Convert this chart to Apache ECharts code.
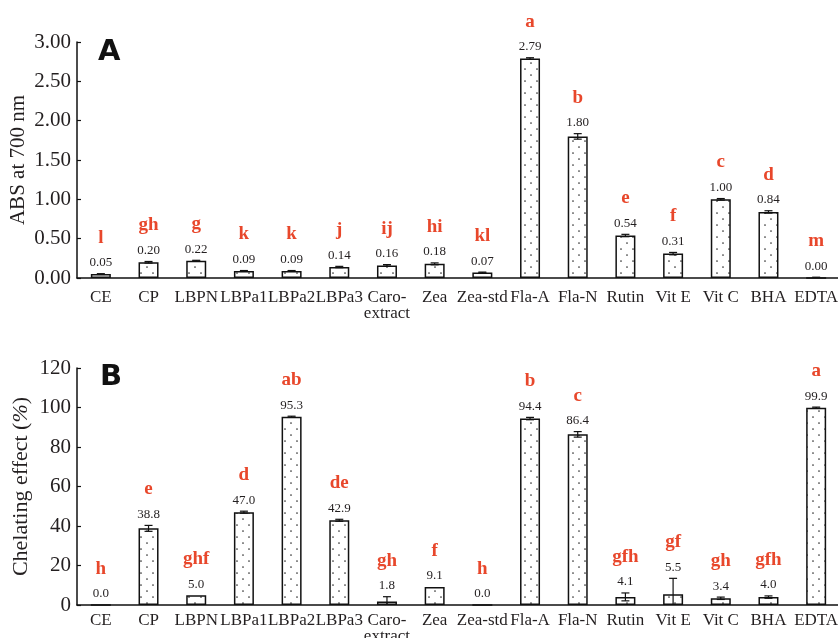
<!DOCTYPE html>
<html>
<head>
<meta charset="utf-8">
<script src="https://cdn.jsdelivr.net/npm/echarts@6/dist/echarts.min.js"></script>
<style>
  html, body { margin: 0; padding: 0; background: #fff; }
  #chart { width: 838px; height: 638px; }
</style>
</head>
<body>
<div id="chart"></div>
<script>
// Samples shown on both panels
const categories = ['CE', 'CP', 'LBPN', 'LBPa1', 'LBPa2', 'LBPa3', 'Caro-\nextract', 'Zea',
  'Zea-std', 'Fla-A', 'Fla-N', 'Rutin', 'Vit E', 'Vit C', 'BHA', 'EDTA'];

// Panel A: reducing power (absorbance at 700 nm)
const absValues  = [0.05, 0.20, 0.22, 0.09, 0.09, 0.14, 0.16, 0.18, 0.07, 2.79, 1.80, 0.54, 0.31, 1.00, 0.84, 0.00];
const absErrors  = [0.005, 0.01, 0.005, 0.005, 0.005, 0.008, 0.01, 0.012, 0.005, 0.01, 0.035, 0.015, 0.015, 0.01, 0.015, 0.01];
const absLetters = ['l', 'gh', 'g', 'k', 'k', 'j', 'ij', 'hi', 'kl', 'a', 'b', 'e', 'f', 'c', 'd', 'm'];
const absTicks   = [0, 0.5, 1, 1.5, 2, 2.5, 3];

// Panel B: ferrous ion chelating effect (%)
const chelValues  = [0.0, 38.8, 5.0, 47.0, 95.3, 42.9, 1.8, 9.1, 0.0, 94.4, 86.4, 4.1, 5.5, 3.4, 4.0, 99.9];
const chelErrors  = [0, 1.5, 0, 0.5, 0.3, 0.5, 2.4, 0, 0, 0.6, 1.4, 2.0, 8.0, 0.6, 0.6, 0.3];
const chelLetters = ['h', 'e', 'ghf', 'd', 'ab', 'de', 'gh', 'f', 'h', 'b', 'c', 'gfh', 'gf', 'gh', 'gfh', 'a'];
const chelTicks   = [0, 20, 40, 60, 80, 100, 120];

const SERIF = 'Liberation Serif';
const INK = '#231f20';
const LETTER_RED = '#e8472b';

// Stippled fill used inside every bar
function stippleTile() {
  const c = document.createElement('canvas');
  c.width = 12; c.height = 12;
  const g = c.getContext('2d');
  g.fillStyle = '#ffffff';
  g.fillRect(0, 0, 12, 12);
  g.fillStyle = '#333333';
  [[3, 3], [9, 9]].forEach(([x, y]) => {
    g.beginPath();
    g.arc(x, y, 0.85, 0, Math.PI * 2);
    g.fill();
  });
  return c;
}
const stipple = { image: stippleTile(), repeat: 'repeat' };

// Error bar plus value and significance-letter labels above each bar
function makeErrorRenderer(values, letters, digits) {
  return function (params, api) {
    const i = api.value(0);
    const v = api.value(1);
    const e = api.value(2);
    const x = api.coord([i, v])[0];
    const yTop = api.coord([i, v + e])[1];
    const children = [];
    const lineStyle = { stroke: '#111', lineWidth: 1.2 };
    if (e > 0) {
      const low = Math.max(0, v - e);
      const yLow = api.coord([i, low])[1];
      children.push({ type: 'line', shape: { x1: x, y1: yLow, x2: x, y2: yTop }, style: lineStyle });
      children.push({ type: 'line', shape: { x1: x - 4, y1: yTop, x2: x + 4, y2: yTop }, style: lineStyle });
      if (v - e > 0) {
        children.push({ type: 'line', shape: { x1: x - 4, y1: yLow, x2: x + 4, y2: yLow }, style: lineStyle });
      }
    }
    children.push({
      type: 'text',
      style: {
        text: values[params.dataIndex].toFixed(digits),
        x: x, y: yTop - 11,
        align: 'center', verticalAlign: 'middle',
        font: '13px "' + SERIF + '"',
        fill: INK
      }
    });
    children.push({
      type: 'text',
      style: {
        text: letters[params.dataIndex],
        x: x, y: yTop - 36,
        align: 'center', verticalAlign: 'middle',
        font: 'bold 19px "' + SERIF + '"',
        fill: LETTER_RED
      }
    });
    return { type: 'group', children: children };
  };
}

function categoryAxis(gridIndex, margin) {
  return {
    type: 'category',
    gridIndex: gridIndex,
    data: categories,
    axisLine: { lineStyle: { color: '#111', width: 1.5 } },
    axisTick: { inside: true, length: 4, lineStyle: { color: '#111', width: 1.2 } },
    axisLabel: {
      interval: 0, margin: margin, hideOverlap: false,
      fontFamily: SERIF, fontSize: 17, color: INK, lineHeight: 16
    }
  };
}

function valueAxis(gridIndex, ticks, digits, name, nameGap, nameSize) {
  return {
    type: 'value',
    gridIndex: gridIndex,
    min: ticks[0],
    max: ticks[ticks.length - 1],
    interval: ticks[1] - ticks[0],
    splitLine: { show: false },
    axisLine: { show: true, lineStyle: { color: '#111', width: 1.5 } },
    axisTick: { show: true, inside: true, length: 4, lineStyle: { color: '#111', width: 1.2 } },
    axisLabel: {
      margin: 6, fontFamily: SERIF, fontSize: 21, color: INK,
      formatter: v => v.toFixed(digits)
    },
    name: name,
    nameLocation: 'middle',
    nameRotate: 90,
    nameGap: nameGap,
    nameMoveOverlap: false,
    nameTextStyle: {
      fontFamily: SERIF, fontSize: nameSize, color: INK,
      rich: { it: { fontFamily: SERIF, fontSize: nameSize, fontStyle: 'italic', color: INK } }
    }
  };
}

const chart = echarts.init(document.getElementById('chart'), null, { renderer: 'canvas' });

const panelTitle = { fontFamily: 'DejaVu Sans', fontWeight: 'bold', fontSize: 29, color: '#111' };

chart.setOption({
  animation: false,
  backgroundColor: '#ffffff',
  title: [
    { text: 'A', left: 98, top: 38, padding: 0, textStyle: panelTitle },
    { text: 'B', left: 100, top: 363, padding: 0, textStyle: panelTitle }
  ],
  grid: [
    { left: 77, right: -2, top: 42, height: 236, outerBoundsMode: 'none', containLabel: false },
    { left: 77, right: -2, top: 368, height: 237, outerBoundsMode: 'none', containLabel: false }
  ],
  xAxis: [categoryAxis(0, 12), categoryAxis(1, 8)],
  yAxis: [
    valueAxis(0, absTicks, 2, 'ABS at 700 nm', 48, 21),
    valueAxis(1, chelTicks, 0, 'Chelating effect ({it|%})', 45, 22)
  ],
  series: [
    {
      type: 'bar', xAxisIndex: 0, yAxisIndex: 0,
      data: absValues, barWidth: 20,
      itemStyle: { color: stipple, borderColor: '#111', borderWidth: 1.5 }
    },
    {
      type: 'custom', xAxisIndex: 0, yAxisIndex: 0, clip: false, z: 5,
      data: absValues.map((v, i) => [i, v, absErrors[i]]),
      encode: { x: 0, y: 1 },
      renderItem: makeErrorRenderer(absValues, absLetters, 2)
    },
    {
      type: 'bar', xAxisIndex: 1, yAxisIndex: 1,
      data: chelValues, barWidth: 20,
      itemStyle: { color: stipple, borderColor: '#111', borderWidth: 1.5 }
    },
    {
      type: 'custom', xAxisIndex: 1, yAxisIndex: 1, clip: false, z: 5,
      data: chelValues.map((v, i) => [i, v, chelErrors[i]]),
      encode: { x: 0, y: 1 },
      renderItem: makeErrorRenderer(chelValues, chelLetters, 1)
    }
  ]
});
</script>
</body>
</html>
